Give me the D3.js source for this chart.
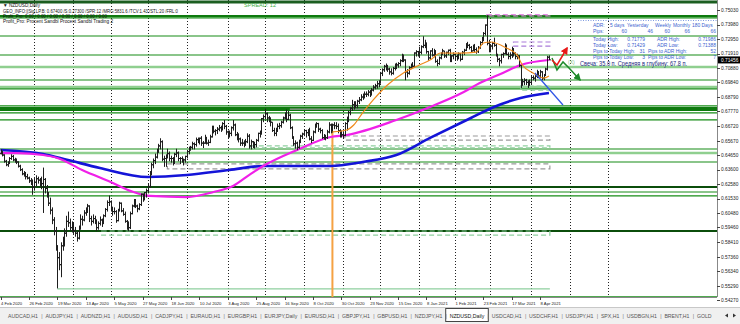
<!DOCTYPE html>
<html>
<head>
<meta charset="utf-8">
<script src="https://cdn.jsdelivr.net/npm/d3@7"></script>
<style>
  body { margin: 0; background: #fff; }
  svg { display: block; font-family: "Liberation Sans", Arial, sans-serif; }
</style>
</head>
<body>
<svg id="chart" width="740" height="324"></svg>
<script>
// ---- data (prices in pips, 1e-4) ----
const startDate = "2020-02-04";
const holidays = ["2020-04-10", "2020-12-25", "2021-01-01"];
const firstOpen = 6475;

const closes = [
  6490,6465,6420,6395,6410,6440,6455,6430,6420,6415,6385,6360,6330,6340,6310,6300,6280,6270,6235,
  6270,6295,6285,6255,6260,6290,6225,6190,6120,6070,6000,5920,5810,5730,5680,5815,5855,5905,5990,5980,5945,5965,
  5925,5905,5870,5940,6005,6000,6050,6070,6100,6010,5990,6010,6000,5945,5975,6000,5985,6030,6075,6125,6130,
  6085,6060,6060,5995,6070,6120,6065,6040,5990,5960,5945,6045,6100,6140,6100,6080,6110,6185,6160,6195,6210,
  6240,6340,6395,6425,6450,6500,6530,6560,6435,6440,6460,6475,6440,6440,6405,6470,6480,6440,6440,6420,6430,6455,
  6490,6505,6520,6545,6540,6575,6565,6585,6550,6550,6590,6550,6555,6595,6665,6635,6640,6650,6660,6650,6690,6670,6630,
  6610,6620,6660,6680,6610,6590,6580,6550,6550,6545,6560,6600,6530,6560,6535,6540,6570,6620,6630,6725,6740,
  6760,6730,6720,6700,6640,6620,6650,6670,6675,6700,6730,6750,6720,6750,6660,6590,6545,6550,6520,6560,6600,6615,
  6640,6625,6630,6580,6570,6630,6680,6690,6650,6640,6590,6600,6590,6630,6680,6640,6680,6675,6670,6640,6620,6610,
  6605,6690,6715,6770,6800,6825,6840,6820,6850,6860,6880,6890,6900,6900,6915,6905,6930,6950,6960,6975,6985,
  7050,7075,7100,7105,7080,7060,7050,7085,7105,7110,7120,7140,7180,7145,7060,7050,7090,7110,7100,7195,7205,7195,
  7200,7240,7250,7265,7205,7160,7210,7180,7210,7135,7120,7160,7190,7210,7175,7200,7215,7150,7175,7185,
  7170,7160,7190,7150,7200,7215,7260,7250,7235,7210,7245,7220,7205,7235,7270,7300,7335,7395,7265,7225,
  7245,7265,7250,7180,7150,7140,7185,7190,7250,7185,7170,7180,7225,7190,7170,7175,7105,6980,6990,7000,6985,6980,6985,
  7020,7015,7030,7060,7030,7060,7015,7040,7080,7165,7146
];
const highs = [
  6505,6495,6470,6430,6420,6450,6470,6465,6445,6440,6420,6395,6370,6350,6340,6330,6310,6300,6290,
  6300,6320,6310,6300,6310,6375,6300,6250,6200,6160,6090,6020,5950,5820,5770,5840,5880,5940,6030,6060,6010,5990,
  5985,5950,5920,5960,6040,6030,6070,6090,6115,6105,6030,6040,6030,6000,5990,6025,6010,6040,6085,6140,6175,
  6140,6095,6090,6070,6080,6130,6125,6085,6060,6000,5990,6060,6110,6150,6150,6110,6120,6190,6190,6200,6225,
  6260,6350,6410,6440,6475,6510,6545,6585,6570,6460,6470,6510,6490,6460,6450,6480,6510,6490,6450,6455,6440,6460,
  6500,6525,6530,6560,6555,6590,6590,6590,6600,6565,6610,6595,6575,6610,6675,6675,6650,6665,6680,6675,6700,6715,6680,
  6640,6640,6670,6715,6690,6630,6620,6590,6580,6570,6580,6620,6615,6575,6565,6560,6580,6625,6640,6730,6755,
  6797,6770,6745,6735,6700,6660,6660,6690,6695,6710,6740,6770,6790,6780,6760,6670,6600,6570,6560,6575,6610,6625,
  6650,6645,6650,6660,6600,6640,6690,6700,6695,6660,6650,6615,6610,6645,6700,6690,6690,6700,6700,6690,6650,6640,
  6635,6700,6740,6780,6810,6860,6850,6850,6860,6880,6900,6905,6920,6920,6930,6930,6945,6965,6975,6995,7000,
  7060,7085,7110,7120,7110,7090,7085,7095,7120,7125,7130,7150,7190,7180,7150,7080,7100,7120,7130,7200,7215,7210,
  7240,7250,7315,7290,7270,7210,7215,7230,7225,7215,7150,7170,7200,7225,7210,7205,7220,7225,7180,7200,
  7190,7185,7200,7195,7210,7225,7265,7275,7260,7245,7255,7260,7235,7245,7280,7310,7345,7400,7465,7290,
  7260,7275,7305,7260,7190,7160,7190,7200,7265,7255,7200,7200,7240,7230,7200,7190,7180,7110,7010,7015,7010,7000,7005,
  7030,7035,7045,7075,7065,7075,7065,7045,7090,7175,7178
];
const lows = [
  6470,6455,6410,6385,6380,6400,6430,6420,6410,6400,6375,6350,6320,6310,6290,6290,6265,6250,6180,
  6210,6240,6260,6240,6220,6050,6190,6160,6100,6040,5970,5890,5780,5510,5640,5590,5780,5810,5880,5950,5920,5910,
  5900,5880,5845,5860,5930,5960,5990,6030,6050,5985,5960,5975,5970,5920,5930,5960,5950,5970,6020,6060,6100,
  6060,6030,6040,5980,5990,6060,6055,6030,5980,5930,5920,5935,6040,6090,6085,6055,6070,6100,6130,6140,6160,
  6190,6230,6320,6370,6400,6440,6480,6505,6420,6380,6380,6440,6420,6410,6390,6400,6450,6420,6400,6410,6390,6410,
  6440,6470,6495,6505,6505,6525,6550,6540,6530,6515,6545,6540,6530,6550,6590,6620,6605,6615,6635,6630,6640,6650,6610,
  6580,6590,6600,6640,6600,6570,6555,6530,6530,6520,6530,6550,6510,6505,6515,6510,6520,6560,6590,6610,6700,
  6720,6700,6700,6670,6630,6600,6600,6630,6650,6660,6690,6720,6700,6715,6650,6580,6530,6510,6500,6510,6550,6580,
  6600,6590,6600,6570,6550,6565,6620,6660,6630,6620,6580,6575,6570,6580,6620,6620,6625,6650,6650,6620,6590,6590,
  6580,6600,6640,6700,6750,6780,6790,6800,6800,6830,6850,6860,6870,6880,6885,6880,6890,6920,6935,6940,6950,
  6975,7030,7060,7070,7060,7040,7035,7040,7070,7080,7090,7100,7130,7130,7000,7020,7040,7080,7090,7090,7170,7170,
  7160,7185,7230,7230,7190,7140,7150,7170,7165,7125,7100,7110,7150,7180,7160,7160,7180,7130,7130,7150,
  7140,7140,7150,7135,7145,7180,7210,7230,7220,7200,7210,7200,7190,7195,7225,7255,7280,7320,7250,7200,
  7200,7220,7240,7170,7130,7100,7120,7160,7185,7180,7150,7150,7160,7170,7150,7150,7095,6945,6960,6965,6965,6945,6960,
  6970,7000,6990,7015,7015,7015,7000,7000,7030,7070,7143
];

// moving averages: [bar index, price]
const maMagenta = [[0,0.6479],[9,0.6479],[24,0.6465],[32,0.6444],[46,0.6358],[62,0.6272],[75,0.6200],[84,0.6172],
  [105,0.6164],[120,0.6200],[131,0.6243],[141,0.6330],[148,0.6386],[167,0.6501],[186,0.6594],[195,0.6608],
  [223,0.6716],[242,0.6809],[261,0.6916],[270,0.6980],[283,0.7052],[293,0.7109],[309,0.7145]];
const maBlue = [[0,0.6501],[24,0.6472],[38,0.6429],[56,0.6372],[83,0.6308],[105,0.6322],[129,0.6358],[148,0.6386],
  [186,0.6386],[204,0.6415],[223,0.6465],[242,0.6587],[265,0.6730],[278,0.6809],[293,0.6873],[309,0.6909]];
const orangeLine = [[187,0.6630],[195,0.6644],[199,0.6680],[204,0.6766],[210,0.6859],[218,0.6966],[227,0.7052],
  [236,0.7109],[242,0.7145],[248,0.7195],[259,0.7195],[268,0.7202],[272,0.7267],[276,0.7274],[285,0.7231],
  [291,0.7181],[294,0.7109],[300,0.7052],[306,0.7016],[309,0.7031]];

// wave arrows drawn on the right
const redArrow = [[310.7,0.7145],[313.5,0.7109],[315.2,0.7145],[319.2,0.7231]];
const greenArrow = [[310.7,0.7159],[313.5,0.7073],[316.9,0.7131],[320.3,0.7088],[326.5,0.7002]];
const blueArrow = [[301.1,0.7052],[316.9,0.6823]];

// horizontal levels and their kinds
const levels = [0.7560,0.7460,0.7446,0.7317,0.7181,0.7095,0.7002,0.6952,0.6938,0.6816,0.6801,0.6787,0.6766,
  0.6716,0.6508,0.6479,0.6415,0.6236,0.6200,0.6172,0.5921,0.5449];
const levelKind = ["top","major","minor","minor","minor","light","minor","light","minor","minor","major","major","minor",
  "minor","minor","light","minor","dark","minor","minor","dark","minor"];

// dashed zones: start bar, end bar, upper price, lower price, kind
const zoneStart = [274,289,293,194,141,163,94,57,32];
const zoneEnd   = [309.5,309.5,309.5,309.5,309.5,309.5,309.5,309.5,309.5];
const zoneTop   = [0.7470,0.7274,0.6959,0.6601,0.6530,0.6794,0.6401,0.5921,0.5506];
const zoneBot   = [0.7460,0.7245,0.6930,0.6572,0.6516,0.6794,0.6365,0.5892,0.5506];
const zoneKind  = ["pink","purple","green","grey","green","grey","grey","green","green"];

const orangeStartBar = 187;
const priceTicks = ["0.75030","0.73980","0.72950","0.71910","0.70880","0.69840","0.68790","0.67770","0.66720",
  "0.65670","0.64650","0.63600","0.62580","0.61530","0.60480","0.59460","0.58410","0.57360","0.56340","0.55290","0.54270"];
const lastPrice = "0.71456";

const headerLines = ["\u25BC NZDUSD,Daily",
  "GEO_INFO:||Sig.LP.B: 0.67400 /S:0.27300 /SPR:12 /MRG:5831.6 /TCV:1.43 /STL:20 /FRL:0",
  "Profit_Pro: 0.00 / 0.00 / 0.00 / 0.00 / 0.00 / 0.00 / 0.00",
  "Profit_Pro: Procent Sandbl Procent Sandbl Trading 2"];
const spreadText = "SPREAD: 12";

const adrHeads = ["ADR:", "5 days", "Yesterday", "Weekly", "Monthly", "180 Days"];
const adrPips = ["Pips:", "60", "46", "60", "66", "66"];
const todayRows = [
  ["Today High:", "0.71779", "ADR High:", "0.71986"],
  ["Today Low:", "0.71429", "ADR Low:", "0.71388"],
  ["Pips to Today High:", "31", "Pips to ADR High:", "52"],
  ["Pips to Today Low:", "3", "Pips to ADR Low:", "7"]
];
const candleText = "Свеча: 35.0 п. Средняя в глубину: 67.8 п.";

const tabs = ["AUDCAD,H1","AUDJPY,H1","AUDNZD,H1","AUDUSD,H1","CADJPY,H1","EURAUD,H1","EURGBP,H1","EURJPY,Daily",
  "EURUSD,H1","GBPJPY,H1","GBPUSD,H1","NZDJPY,H1","NZDUSD,Daily","USDCAD,H1","USDCHF,H1","USDJPY,H1","SPX,H1",
  "USDBGN,H1","BRENT,H1","GOLD"];
const activeTab = "NZDUSD,Daily";

// ---- layout ----
const W = 740, plotRight = 717, plotBottom = 297;
const svg = d3.select("#chart");

// trading days
const parse = d3.utcParse("%Y-%m-%d"), key = d3.utcFormat("%Y-%m-%d");
const days = [];
for (let d = parse(startDate); days.length < closes.length + 40; d = d3.utcDay.offset(d, 1)) {
  const wd = d.getUTCDay();
  if (wd === 0 || wd === 6 || holidays.includes(key(d))) continue;
  days.push(d);
}

const x = d3.scaleLinear().domain([0, 404]).range([0.5, 0.5 + 404 * 1.775]);
const y = d3.scaleLinear().domain([0.5427, 0.7503]).range([300, 10]);
const p = v => v / 10000;

const bars = closes.map((c, i) => {
  const o = i === 0 ? firstOpen : closes[i - 1];
  return { i, o: p(o), c: p(c), h: p(Math.max(highs[i], o, c)), l: p(Math.min(lows[i], o, c)) };
});

const plot = svg.append("g");
plot.append("rect").attr("width", plotRight).attr("height", plotBottom).attr("fill", "#fff");

// month grid
const monthStarts = days.map((d, i) => i).filter(i => i > 0 && days[i].getUTCMonth() !== days[i - 1].getUTCMonth());
plot.selectAll(".vgrid").data(monthStarts.filter(i => x(i) < plotRight)).enter().append("line")
  .attr("x1", i => Math.round(x(i)) + 0.5).attr("x2", i => Math.round(x(i)) + 0.5)
  .attr("y1", 0).attr("y2", plotBottom)
  .attr("stroke", "#222").attr("stroke-dasharray", "1,2").attr("stroke-width", 1);

// levels
const levelStyle = {
  top:   { c: "#1b5e20", w: 3 },
  major: { c: "#0e7a0e", w: 2 },
  minor: { c: "#168c16", w: 1.2 },
  light: { c: "#8fcf8f", w: 2.5 },
  dark:  { c: "#0b4d0b", w: 2.2 }
};
plot.selectAll(".level").data(levels).enter().append("line")
  .attr("x1", 0).attr("x2", plotRight)
  .attr("y1", d => y(d)).attr("y2", d => y(d))
  .attr("stroke", (d, i) => levelStyle[levelKind[i]].c)
  .attr("stroke-width", (d, i) => levelStyle[levelKind[i]].w);

// zones
const zoneColor = { pink: "#e58be5", purple: "#a97bd9", green: "#8fcf9f", grey: "#9a9a9a" };
plot.selectAll(".zone").data(zoneStart).enter().append("path")
  .attr("d", (s, i) => {
    const x0 = x(s), x1 = x(zoneEnd[i]), y0 = y(zoneTop[i]), y1 = y(zoneBot[i]);
    return "M" + x0 + "," + y0 + "H" + x1 + "V" + y1 + "H" + x0 + "Z";
  })
  .attr("fill", "none")
  .attr("stroke", (s, i) => zoneColor[zoneKind[i]])
  .attr("stroke-width", 1.2)
  .attr("stroke-dasharray", "5,3");

// orange anchor
plot.append("line")
  .attr("x1", x(orangeStartBar)).attr("x2", x(orangeStartBar))
  .attr("y1", y(orangeLine[0][1])).attr("y2", plotBottom)
  .attr("stroke", "#f5a142").attr("stroke-width", 2);

// moving averages
const lineGen = d3.line().x(d => x(d[0])).y(d => y(d[1])).curve(d3.curveMonotoneX);
plot.append("path").attr("d", lineGen(maBlue)).attr("fill", "none").attr("stroke", "#1414d8").attr("stroke-width", 2.6);
plot.append("path").attr("d", lineGen(maMagenta)).attr("fill", "none").attr("stroke", "#f020e8").attr("stroke-width", 2.2);

// OHLC bars
const ohlc = plot.append("g").attr("stroke", "#1e1e1e").attr("stroke-width", 1).attr("fill", "none");
ohlc.selectAll("path").data(bars).enter().append("path")
  .attr("d", b => {
    const cx = Math.round(x(b.i)) + 0.5;
    return "M" + cx + "," + y(b.h) + "V" + y(b.l) +
      "M" + (cx - 1.5) + "," + y(b.o) + "H" + cx +
      "M" + cx + "," + y(b.c) + "H" + (cx + 1.5);
  });

plot.append("path").attr("d", lineGen(orangeLine)).attr("fill", "none").attr("stroke", "#f08a1c").attr("stroke-width", 1.2);

// arrows
const straight = d3.line().x(d => x(d[0])).y(d => y(d[1]));
const defs = svg.append("defs");
[["red", "#e81818"], ["grn", "#1d8a2a"], ["blu", "#2f55e6"]].forEach(([id, col]) => {
  defs.append("marker").attr("id", "ah-" + id).attr("viewBox", "0 0 10 10").attr("refX", 8).attr("refY", 5)
    .attr("markerWidth", 5).attr("markerHeight", 5).attr("orient", "auto")
    .append("path").attr("d", "M0,0L10,5L0,10Z").attr("fill", col);
});
plot.append("path").attr("d", straight(blueArrow)).attr("fill", "none").attr("stroke", "#2f55e6").attr("stroke-width", 1.2);
plot.append("path").attr("d", straight(greenArrow)).attr("fill", "none").attr("stroke", "#1d8a2a").attr("stroke-width", 1.5)
  .attr("marker-end", "url(#ah-grn)");
plot.append("path").attr("d", straight(redArrow)).attr("fill", "none").attr("stroke", "#e81818").attr("stroke-width", 1.5)
  .attr("marker-end", "url(#ah-red)");
plot.append("text").attr("x", x(greenArrow[3][0]) - 1).attr("y", y(greenArrow[2][1]) + 2)
  .attr("font-size", 5).attr("fill", "#7cc07c").text("(X)");

// header texts
const headerY = [5, 11, 16, 21], headerW = [37, 175, 104, 110];
svg.selectAll(".hdr").data(headerLines).enter().append("text")
  .attr("x", 3).attr("y", (d, i) => headerY[i] + 2)
  .attr("font-size", 5).attr("fill", "#111")
  .attr("textLength", (d, i) => headerW[i]).attr("lengthAdjust", "spacingAndGlyphs")
  .text(d => d);
svg.append("text").attr("x", 244).attr("y", 7).attr("font-size", 6).attr("fill", "#3fae3f")
  .attr("textLength", 32).attr("lengthAdjust", "spacingAndGlyphs").text(spreadText);

// info panel
const info = svg.append("g").attr("fill", "#3a5fcf").attr("font-size", 4.9);
svg.append("line").attr("x1", 578).attr("x2", plotRight).attr("y1", 20.5).attr("y2", 20.5)
  .attr("stroke", "#7f9be0").attr("stroke-dasharray", "1,1.5");
const headX = [593, 610, 627, 655, 673, 692];
info.selectAll(".ah").data(adrHeads).enter().append("text")
  .attr("x", (d, i) => headX[i]).attr("y", 27).text(d => d);
const pipX = [593, 627, 653, 670, 690, 716];
info.selectAll(".ap").data(adrPips).enter().append("text")
  .attr("x", (d, i) => pipX[i]).attr("y", 33)
  .attr("text-anchor", (d, i) => i === 0 ? "start" : "end").text(d => d);
const rowY = [41, 47, 53, 58.5];
todayRows.forEach((row, r) => {
  info.append("text").attr("x", 593).attr("y", rowY[r]).text(row[0]);
  info.append("text").attr("x", 645).attr("y", rowY[r]).attr("text-anchor", "end").text(row[1]);
  info.append("text").attr("x", r < 2 ? 657 : 648).attr("y", rowY[r]).text(row[2]);
  info.append("text").attr("x", 716).attr("y", rowY[r]).attr("text-anchor", "end").text(row[3]);
});
svg.append("text").attr("x", 580).attr("y", 66).attr("font-size", 6.6).attr("fill", "#1a2a80")
  .attr("textLength", 107).attr("lengthAdjust", "spacingAndGlyphs").text(candleText);

// price axis
svg.append("rect").attr("x", plotRight).attr("y", 0).attr("width", W - plotRight).attr("height", 306).attr("fill", "#fff");
svg.append("line").attr("x1", plotRight + 0.5).attr("x2", plotRight + 0.5).attr("y1", 0).attr("y2", plotBottom)
  .attr("stroke", "#888");
const pAxis = svg.append("g");
pAxis.selectAll("line").data(priceTicks).enter().append("line")
  .attr("x1", plotRight).attr("x2", plotRight + 3)
  .attr("y1", d => Math.round(y(+d)) + 0.5).attr("y2", d => Math.round(y(+d)) + 0.5)
  .attr("stroke", "#444");
pAxis.selectAll("text").data(priceTicks).enter().append("text")
  .attr("x", plotRight + 4).attr("y", d => y(+d) + 1.8)
  .attr("font-size", 4.8).attr("fill", "#222").text(d => d);
svg.append("rect").attr("x", plotRight + 1).attr("y", y(+lastPrice) - 3.5).attr("width", 22).attr("height", 7).attr("fill", "#000");
svg.append("text").attr("x", plotRight + 4).attr("y", y(+lastPrice) + 1.8).attr("font-size", 4.8)
  .attr("fill", "#fff").text(lastPrice);

// time axis
svg.append("line").attr("x1", 0).attr("x2", plotRight).attr("y1", plotBottom + 0.5).attr("y2", plotBottom + 0.5)
  .attr("stroke", "#888");
const fmtDate = d3.utcFormat("%-d %b %Y");
const labelIdx = d3.range(0, closes.length, 16);
const tAxis = svg.append("g");
tAxis.selectAll("line").data(labelIdx).enter().append("line")
  .attr("x1", i => Math.round(x(i)) + 0.5).attr("x2", i => Math.round(x(i)) + 0.5)
  .attr("y1", plotBottom).attr("y2", plotBottom + 3).attr("stroke", "#444");
tAxis.selectAll("text").data(labelIdx).enter().append("text")
  .attr("x", i => x(i) + 0.5).attr("y", 304.5)
  .attr("font-size", 4.2).attr("fill", "#222").text(i => fmtDate(days[i]));

// tab bar
svg.append("rect").attr("x", 0).attr("y", 307).attr("width", W).attr("height", 17).attr("fill", "#f0f0f0");
svg.append("line").attr("x1", 0).attr("x2", W).attr("y1", 307.5).attr("y2", 307.5).attr("stroke", "#c8c8c8");
const tabG = svg.append("g").attr("font-size", 5.2);
let tx = 8;
tabs.forEach((t, i) => {
  const txt = tabG.append("text").attr("x", tx).attr("y", 318).attr("fill", "#555").text(t);
  const w = txt.node().getComputedTextLength();
  if (t === activeTab) {
    tabG.insert("rect", "text").attr("x", tx - 4).attr("y", 308.5).attr("width", w + 8).attr("height", 13)
      .attr("fill", "#fff").attr("stroke", "#444");
    txt.attr("fill", "#111");
  }
  if (i < tabs.length - 1) {
    tabG.append("text").attr("x", tx + w + 3.2).attr("y", 318).attr("fill", "#777").text("|");
  }
  tx += w + 7.4;
});
tabG.append("path").attr("d", "M725,315.5l3,-2v4z M733,313.5l3,2l-3,2z").attr("fill", "#333");
</script>
</body>
</html>
